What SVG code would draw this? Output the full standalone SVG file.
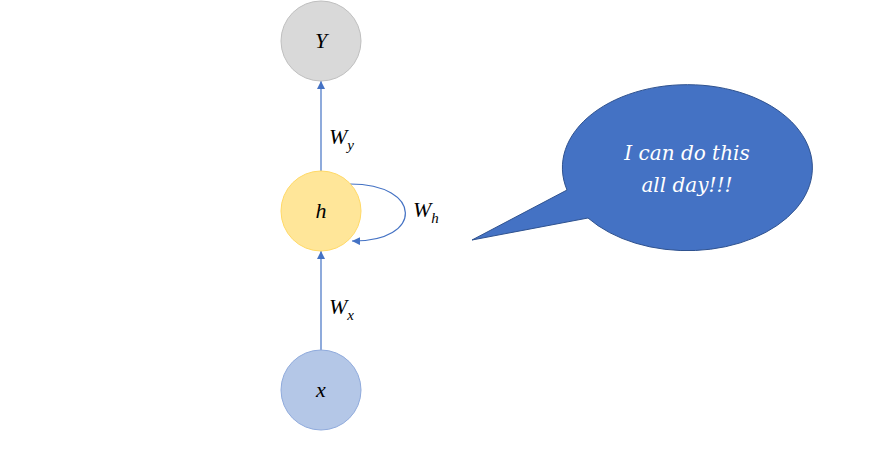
<svg xmlns="http://www.w3.org/2000/svg" width="875" height="460" viewBox="0 0 875 460">
<style>
.lbl{font-family:"Liberation Serif",serif;font-style:italic;font-size:22px;fill:#000}
.sub{font-family:"Liberation Serif",serif;font-style:italic;font-size:15px;fill:#000}
.node{font-family:"Liberation Serif",serif;font-style:italic;font-size:22px;fill:#000;text-anchor:middle}
.con{stroke:#4472c4;stroke-width:1.2;fill:none}
.say{font-family:"DejaVu Serif",serif;font-style:italic;font-size:20px;fill:#fff;text-anchor:middle}
</style>
<defs>
<marker id="ah" viewBox="0 0 10 10" refX="10" refY="5" markerWidth="8" markerHeight="8" markerUnits="userSpaceOnUse" orient="auto">
<path d="M0,0 L10,5 L0,10 z" fill="#4472c4"/>
</marker>
</defs>
<rect width="875" height="460" fill="#fff"/>
<g id="connectors">
<line class="con" x1="321" y1="171" x2="321" y2="81" marker-end="url(#ah)"/>
<line class="con" x1="321" y1="350" x2="321" y2="251" marker-end="url(#ah)"/>
<path class="con" d="M350,184 C423,184 424,242 352,241" marker-end="url(#ah)"/>
<text class="lbl" x="329" y="144">W<tspan class="sub" dy="6">y</tspan></text>
<text class="lbl" x="413" y="217">W<tspan class="sub" dy="6">h</tspan></text>
<text class="lbl" x="329" y="314">W<tspan class="sub" dy="6">x</tspan></text>
</g>
<g id="node-Y">
<circle cx="321" cy="41" r="40" fill="#d9d9d9" stroke="#bfbfbf"/>
<text class="node" x="321" y="48">Υ</text>
</g>
<g id="node-h">
<circle cx="321" cy="211" r="40" fill="#ffe699" stroke="#ffd966"/>
<text class="node" x="321" y="218">h</text>
</g>
<g id="node-x">
<circle cx="321" cy="390" r="40" fill="#b4c7e7" stroke="#8faadc"/>
<text class="node" x="321" y="397">x</text>
</g>
<g id="callout">
<path d="M567,190 A125,83 0 1 1 588,218 L472,240 Z" fill="#4472c4" stroke="#2f528f" stroke-width="1"/>
<text class="say" x="687" y="160">I can do this</text>
<text class="say" x="687" y="192">all day!!!</text>
</g>
</svg>
